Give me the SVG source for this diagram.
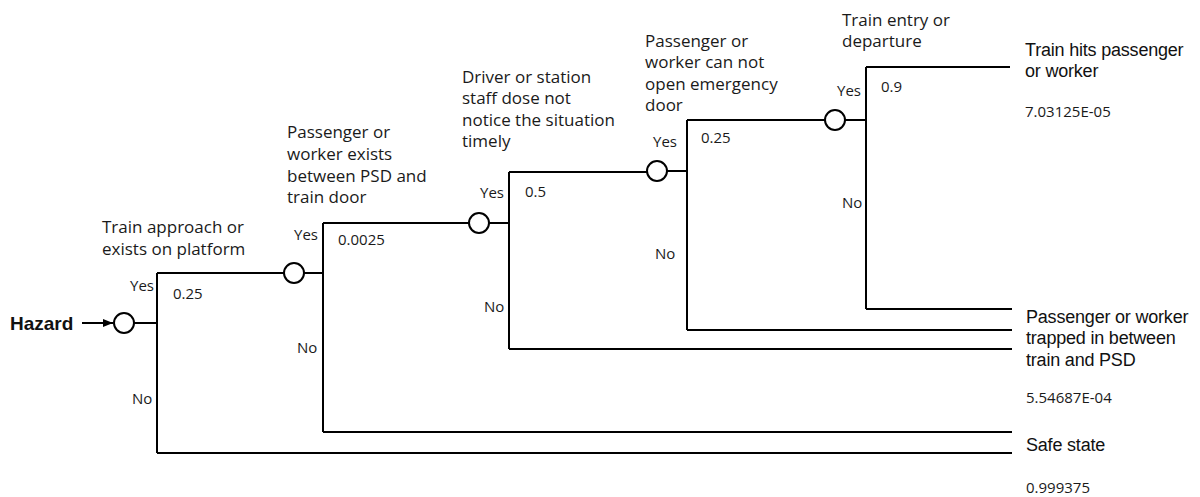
<svg xmlns="http://www.w3.org/2000/svg" width="1200" height="497" viewBox="0 0 1200 497">
<defs>
<style>
.ln{fill:none;stroke:#000;stroke-width:2}
.nd{fill:#fff;stroke:#000;stroke-width:2}
.hd{font-family:"Open Sans","Noto Sans",sans-serif;font-size:17px;fill:#1a1a1a}
.lb{font-family:"Open Sans","Noto Sans",sans-serif;font-size:15px;fill:#1a1a1a}
.oc{font-family:"Liberation Sans",Arial,sans-serif;font-size:18px;fill:#111;letter-spacing:-0.2px}
.hz{font-family:"Liberation Sans",Arial,sans-serif;font-size:19px;font-weight:bold;fill:#111}
</style>
<marker id="ah" viewBox="0 0 10 10" refX="10" refY="5" markerWidth="10" markerHeight="10" markerUnits="userSpaceOnUse" orient="auto">
<path d="M0,1 L10,5 L0,9 z" fill="#000"/>
</marker>
</defs>
<rect width="1200" height="497" fill="#fff"/>
<g id="connectors">
<line class="ln" x1="82" y1="323" x2="113" y2="323" marker-end="url(#ah)"/>
<path class="ln" d="M134,323 H157 M157,273 V453 M157,273 H284 M157,453 H1012"/>
<path class="ln" d="M304,273 H323 M323,223 V432 M323,223 H469 M323,432 H1012"/>
<path class="ln" d="M489,223 H509 M509,172 V349 M509,172 H647 M509,349 H1012"/>
<path class="ln" d="M667,171 H687 M687,120 V330 M687,120 H825 M687,330 H1012"/>
<path class="ln" d="M845,120 H866 M866,67 V309 M866,67 H1010 M866,309 H1012"/>
</g>
<g id="hazard"><text class="hz" x="10" y="330">Hazard</text></g>
<g id="node1">
<circle class="nd" cx="124" cy="323" r="10"/>
<text class="hd" x="102" y="233">Train approach or</text>
<text class="hd" x="102" y="255">exists on platform</text>
<text class="lb" x="130" y="291">Yes</text>
<text class="lb" x="173" y="299">0.25</text>
<text class="lb" x="132" y="404">No</text>
</g>
<g id="node2">
<circle class="nd" cx="294" cy="273" r="10"/>
<text class="hd" x="287" y="138">Passenger or</text>
<text class="hd" x="287" y="160">worker exists</text>
<text class="hd" x="287" y="182">between PSD and</text>
<text class="hd" x="287" y="203">train door</text>
<text class="lb" x="294" y="240">Yes</text>
<text class="lb" x="338" y="245">0.0025</text>
<text class="lb" x="297" y="353">No</text>
</g>
<g id="node3">
<circle class="nd" cx="479" cy="223" r="10"/>
<text class="hd" x="462" y="83">Driver or station</text>
<text class="hd" x="462" y="104">staff dose not</text>
<text class="hd" x="462" y="126">notice the situation</text>
<text class="hd" x="462" y="147">timely</text>
<text class="lb" x="480" y="198">Yes</text>
<text class="lb" x="525" y="197">0.5</text>
<text class="lb" x="484" y="312">No</text>
</g>
<g id="node4">
<circle class="nd" cx="657" cy="171" r="10"/>
<text class="hd" x="645" y="47">Passenger or</text>
<text class="hd" x="645" y="68">worker can not</text>
<text class="hd" x="645" y="90">open emergency</text>
<text class="hd" x="645" y="111">door</text>
<text class="lb" x="653" y="147">Yes</text>
<text class="lb" x="701" y="143">0.25</text>
<text class="lb" x="655" y="259">No</text>
</g>
<g id="node5">
<circle class="nd" cx="835" cy="120" r="10"/>
<text class="hd" x="842" y="26">Train entry or</text>
<text class="hd" x="842" y="47">departure</text>
<text class="lb" x="837" y="96">Yes</text>
<text class="lb" x="881" y="92">0.9</text>
<text class="lb" x="842" y="208">No</text>
</g>
<g id="outcome-hit">
<text class="oc" x="1025" y="56">Train hits passenger</text>
<text class="oc" x="1025" y="77">or worker</text>
<text class="lb" x="1025" y="117">7.03125E-05</text>
</g>
<g id="outcome-trapped">
<text class="oc" x="1026" y="323">Passenger or worker</text>
<text class="oc" x="1026" y="344">trapped in between</text>
<text class="oc" x="1026" y="366">train and PSD</text>
<text class="lb" x="1026" y="403">5.54687E-04</text>
</g>
<g id="outcome-safe">
<text class="oc" x="1026" y="451">Safe state</text>
<text class="lb" x="1026" y="493">0.999375</text>
</g>
</svg>
